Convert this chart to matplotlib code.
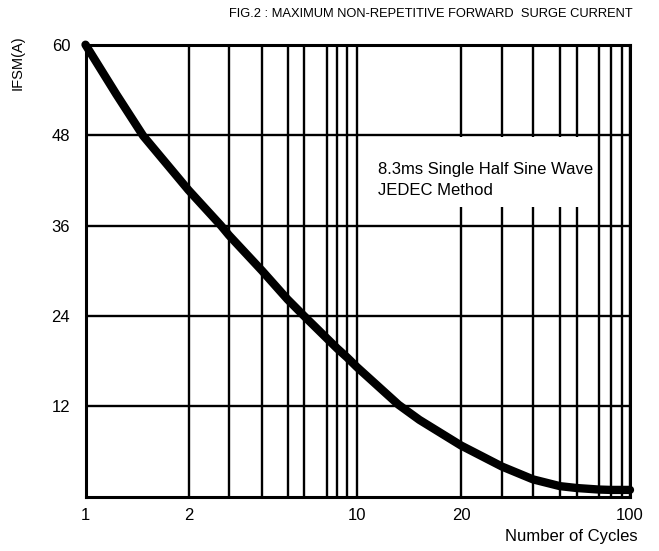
import numpy as np
import matplotlib
matplotlib.use("Agg")
import matplotlib.pyplot as plt
from matplotlib.patches import Rectangle

plt.rcParams['font.family'] = ['Liberation Sans', 'DejaVu Sans']

# curve
cycles = [1, 1.3, 1.56, 2, 2.8, 3, 4, 5, 6, 7, 8, 9, 10, 12, 14, 16, 20, 30, 40, 50, 60, 70, 80, 90, 100]
ifsm = [60, 53.4, 47.9, 40.7, 36, 34.7, 30.0, 26.2, 24, 21.0, 19.7, 18.5, 17.2, 14.7, 12.2,
        10.2, 6.8, 4.0, 2.3, 1.4, 1.15, 0.95, 0.9, 0.9, 0.9]

# x axis of the original is a hand-drawn "log" paper: calibration of grid lines
grid_cycles = [1, 2, 3, 4, 5, 6, 7, 8, 9, 10, 20, 30, 40, 50, 60, 70, 80, 90, 100]
grid_pos = [85.5, 188.5, 229, 262, 287.5, 304, 327, 337, 347, 357,
            461, 502, 533, 560, 577, 599, 611, 622, 630]
x_labels = [1, 2, 10, 20, 100]
y_ticks = [12, 24, 36, 48, 60]


def fwd(x):
    return np.interp(x, grid_cycles, grid_pos)


def inv(p):
    return np.interp(p, grid_pos, grid_cycles)


fig = plt.figure(figsize=(6.59, 5.51), dpi=100)
ax = fig.add_axes([85.5 / 659, 1 - 496.7 / 551, 544.5 / 659, 452 / 551])

ax.set_xscale('function', functions=(fwd, inv))
ax.set_xlim(1, 100)
ax.set_ylim(0, 60)

ax.set_xticks(x_labels)
ax.set_xticklabels([str(v) for v in x_labels])
ax.set_xticks([c for c in grid_cycles if c not in x_labels], minor=True)
ax.set_yticks(y_ticks)
ax.tick_params(axis='both', which='both', length=0, labelsize=12)
ax.tick_params(axis='x', pad=8)
ax.tick_params(axis='y', pad=11)

ax.grid(True, which='both', color='black', linewidth=1.7)
for s in ax.spines.values():
    s.set_linewidth(2.2)

# white box behind the note
ax.add_patch(Rectangle((0.505, 0.641), 0.433, 0.155, transform=ax.transAxes,
                       facecolor='white', edgecolor='none', zorder=3))
ax.text(0.537, 0.723, '8.3ms Single Half Sine Wave', transform=ax.transAxes,
        fontsize=12, va='center', ha='left', zorder=4)
ax.text(0.537, 0.678, 'JEDEC Method', transform=ax.transAxes,
        fontsize=12, va='center', ha='left', zorder=4)

ax.plot(cycles, ifsm, color='black', linewidth=6, solid_capstyle='round',
        solid_joinstyle='round', zorder=5, clip_on=False)

fig.text(0.654, 0.975, 'FIG.2 : MAXIMUM NON-REPETITIVE FORWARD  SURGE CURRENT',
         ha='center', va='center', fontsize=9.3)
fig.text(0.026, 0.887, 'IFSM(A)', rotation=90, ha='center', va='center', fontsize=10.5)
fig.text(0.968, 0.027, 'Number of Cycles', ha='right', va='center', fontsize=12)

fig.savefig('out.png', dpi=100)
